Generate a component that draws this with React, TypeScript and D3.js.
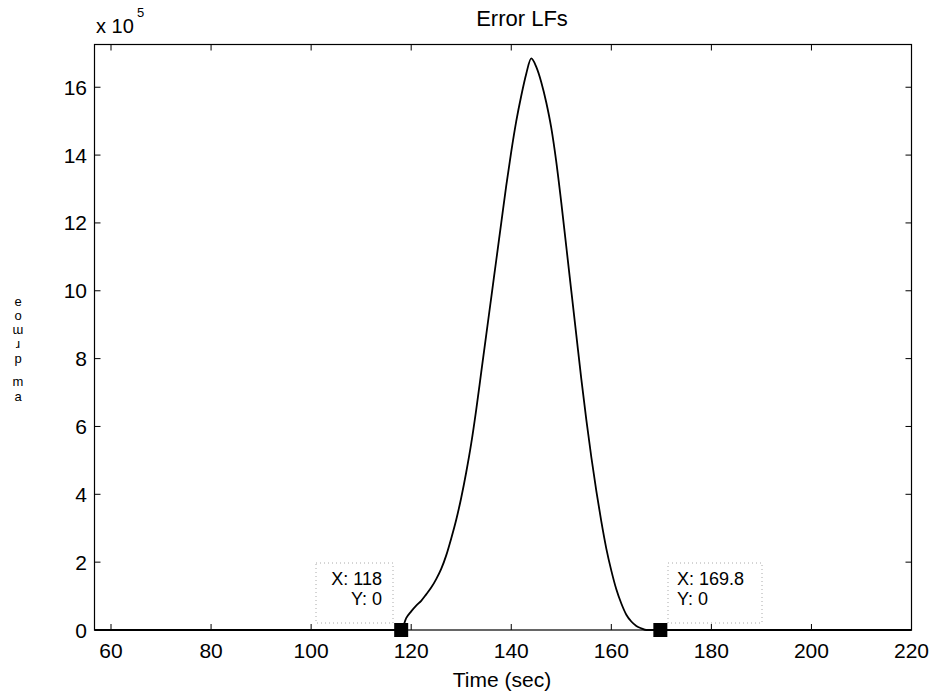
import React from "react";
import * as d3 from "d3";

const timeSec = [56.7, 118, 119, 120, 121, 122, 123, 124, 125, 126, 127, 128, 129, 130, 131, 132, 133, 134, 135, 136, 137, 138, 139, 140, 141, 142, 143, 144, 145, 146, 147, 148, 149, 150, 151, 152, 153, 154, 155, 156, 157, 158, 159, 160, 161, 162, 163, 164, 165, 166, 167, 169.8, 220];
const errorVal = [0, 0, 0.35, 0.55, 0.72, 0.86, 1.05, 1.25, 1.5, 1.8, 2.2, 2.7, 3.25, 3.9, 4.65, 5.5, 6.5, 7.6, 8.7, 9.8, 10.9, 12.0, 13.1, 14.1, 15.0, 15.75, 16.4, 16.85, 16.6, 16.15, 15.55, 14.8, 13.8, 12.6, 11.3, 10.0, 8.7, 7.4, 6.2, 5.1, 4.1, 3.2, 2.4, 1.75, 1.2, 0.78, 0.45, 0.25, 0.12, 0.05, 0, 0, 0];
const xTicks = [60, 80, 100, 120, 140, 160, 180, 200, 220];
const yTicks = [0, 2, 4, 6, 8, 10, 12, 14, 16];
const tipX = [118, 169.8];
const tipY = [0, 0];
const tipLabels = [["X: 118", "Y: 0"], ["X: 169.8", "Y: 0"]];
const yLabelGlyphs = ["e", "o", "ɯ", "ɹ", "p", "m", "a"];

const W = 936, H = 695;
const L = 94.5, R = 911.5, T = 44.5, B = 630;
const FONT = "'Liberation Sans', Arial, Helvetica, sans-serif";

export default function App() {
  const x = d3.scaleLinear().domain([56.7, 220]).range([L, R]);
  const y = d3.scaleLinear().domain([0, 17.26]).range([B, T]);
  const line = d3.line<number>().x((_, i) => x(timeSec[i])).y((d) => y(d)).curve(d3.curveMonotoneX);
  const path = line(errorVal) || "";
  const tick = 6;
  const glyphY = [306, 320, 334, 348, 363, 386, 401];

  return (
    <svg width={W} height={H} style={{ position: "absolute", left: 0, top: 0, background: "#fff" }} fontFamily={FONT}>
      <rect x={0} y={0} width={W} height={H} fill="#fff" />
      <rect x={316} y={563} width={77} height={60} fill="#fff" stroke="#aaa" strokeDasharray="1,3" />
      <rect x={668} y={563} width={94} height={60} fill="#fff" stroke="#aaa" strokeDasharray="1,3" />
      <rect x={L} y={T} width={R - L} height={B - T} fill="none" stroke="#000" strokeWidth={1.2} />
      {xTicks.map((t) => (
        <g key={"x" + t}>
          <line x1={x(t)} x2={x(t)} y1={B} y2={B - tick} stroke="#000" />
          <line x1={x(t)} x2={x(t)} y1={T} y2={T + tick} stroke="#000" />
          <text x={x(t)} y={658} fontSize={21} textAnchor="middle">{t}</text>
        </g>
      ))}
      {yTicks.map((t) => (
        <g key={"y" + t}>
          <line x1={L} x2={L + tick} y1={y(t)} y2={y(t)} stroke="#000" />
          <line x1={R} x2={R - tick} y1={y(t)} y2={y(t)} stroke="#000" />
          <text x={87} y={y(t) + 7.5} fontSize={21} textAnchor="end">{t}</text>
        </g>
      ))}
      <path d={path} fill="none" stroke="#000" strokeWidth={1.8} strokeLinejoin="round" />
      {tipX.map((t, i) => (
        <rect key={"sq" + i} x={x(t) - 7} y={y(tipY[i]) - 7} width={14} height={14} fill="#000" />
      ))}
      <text x={382} y={585} fontSize={18} textAnchor="end">{tipLabels[0][0]}</text>
      <text x={382} y={605} fontSize={18} textAnchor="end">{tipLabels[0][1]}</text>
      <text x={677} y={585} fontSize={18}>{tipLabels[1][0]}</text>
      <text x={677} y={605} fontSize={18}>{tipLabels[1][1]}</text>
      <text x={522} y={26} fontSize={22} textAnchor="middle">Error LFs</text>
      <text x={96} y={33} fontSize={20}>x 10</text>
      <text x={137} y={17} fontSize={13}>5</text>
      <text x={502} y={687} fontSize={21} textAnchor="middle">Time (sec)</text>
      {yLabelGlyphs.map((g, i) => (
        <text key={"g" + i} x={18} y={glyphY[i]} fontSize={13} textAnchor="middle">{g}</text>
      ))}
    </svg>
  );
}
